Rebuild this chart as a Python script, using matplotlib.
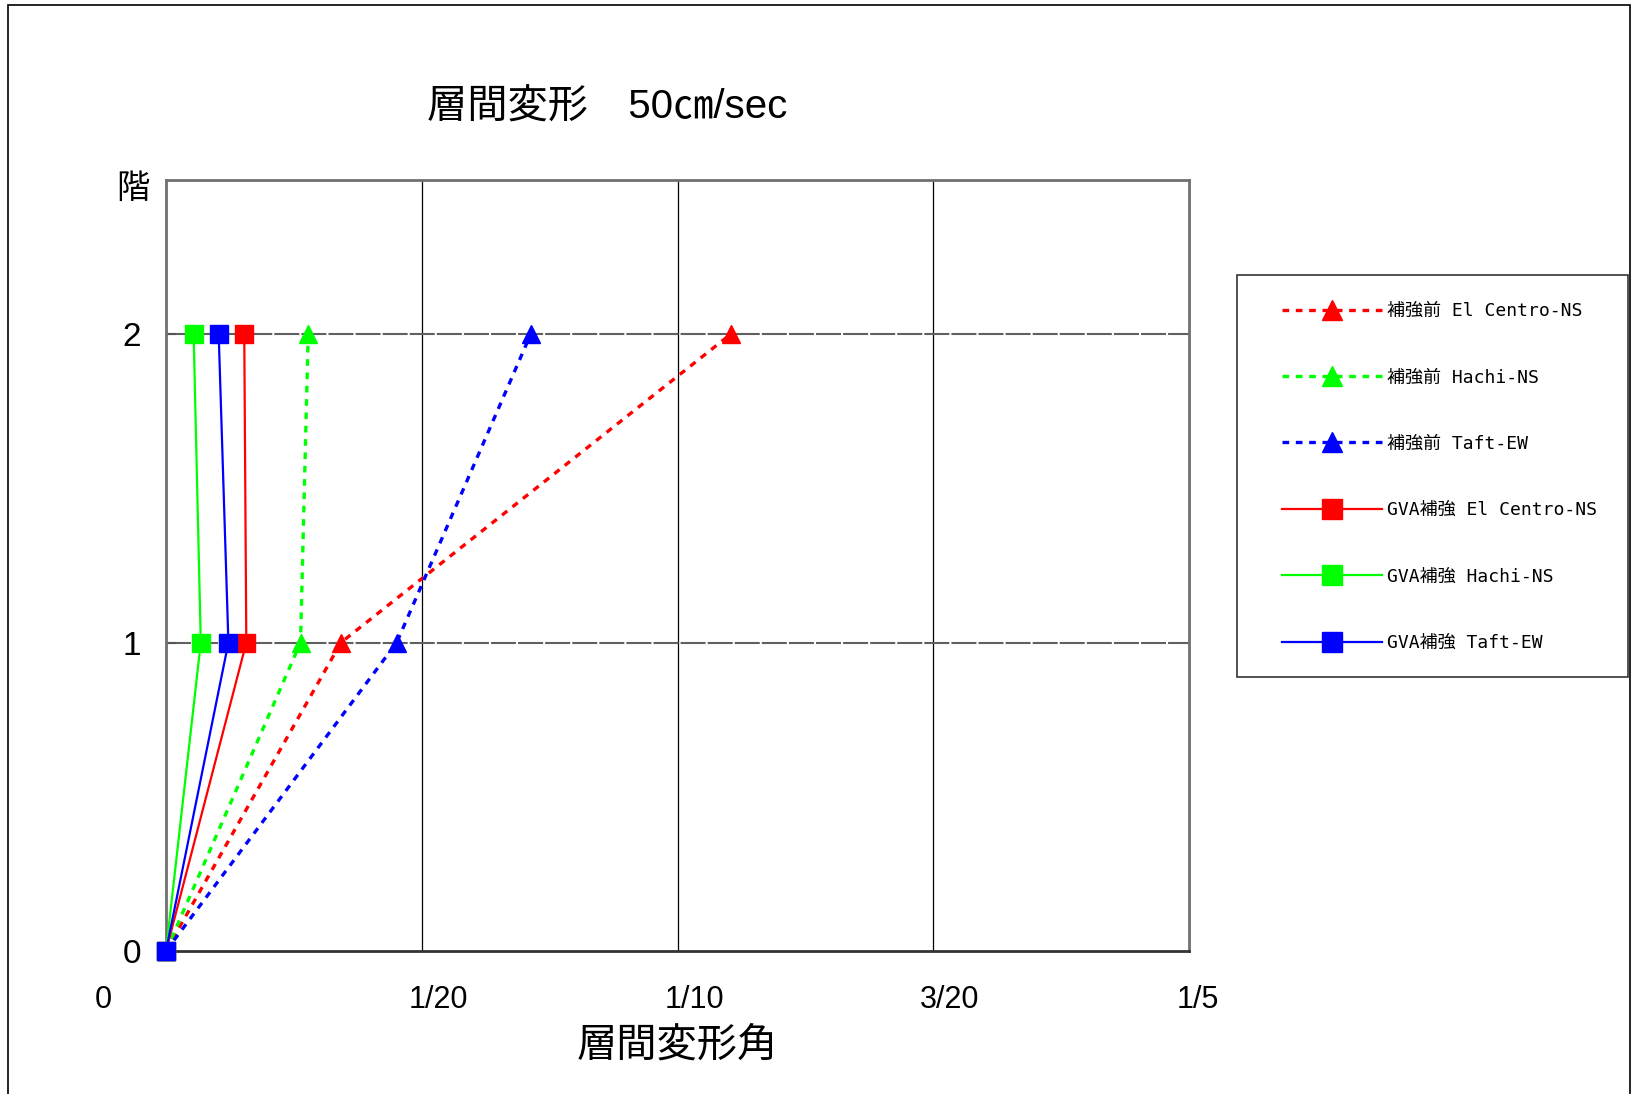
import matplotlib
matplotlib.use("Agg")
from matplotlib import pyplot as plt
from matplotlib.patches import Rectangle

FIG_W = 1634
FIG_H = 1094
DPI = 100

# data (interstory drift angle per floor)
FLOORS = [0, 1, 2]

BEFORE_EL_CENTRO = [0.0, 0.0342, 0.1104]
BEFORE_HACHI = [0.0, 0.0263, 0.0278]
BEFORE_TAFT = [0.0, 0.0451, 0.0713]

GVA_EL_CENTRO = [0.0, 0.0157, 0.0153]
GVA_HACHI = [0.0, 0.0068, 0.0054]
GVA_TAFT = [0.0, 0.0122, 0.0103]

SERIES_LABELS = [
    "補強前 El Centro-NS",
    "補強前 Hachi-NS",
    "補強前 Taft-EW",
    "GVA補強 El Centro-NS",
    "GVA補強 Hachi-NS",
    "GVA補強 Taft-EW",
]

X_TICKS = [0.0, 0.05, 0.1, 0.15, 0.2]
X_TICK_LABELS = ["0", "1/20", "1/10", "3/20", "1/5"]
# label shift in points (Excel style placement)
X_TICK_SHIFT = [-45, 12, 12, 12, 6]
Y_TICKS = [0, 1, 2]

RED = "#FF0000"
GREEN = "#00FF00"
BLUE = "#0000FF"

plt.rcParams["font.family"] = ["Liberation Sans", "Noto Sans CJK JP", "DejaVu Sans"]


def px(x: float, y: float):
    return x / FIG_W, 1 - y / FIG_H


def main() -> None:
    fig = plt.figure(figsize=(FIG_W / DPI, FIG_H / DPI), dpi=DPI)
    fig.patch.set_facecolor("white")

    left, top = 166, 180
    right, bottom = 1189, 951
    ax = fig.add_axes([
        left / FIG_W,
        1 - bottom / FIG_H,
        (right - left) / FIG_W,
        (bottom - top) / FIG_H,
    ])

    # outer frame of the chart area
    fig.patches.append(Rectangle(
        px(8, 1120), (1630 - 8) / FIG_W, (1120 - 5) / FIG_H,
        transform=fig.transFigure, fill=False, edgecolor="black",
        linewidth=1.2, clip_on=False,
    ))

    # grid
    for xv in X_TICKS[1:-1]:
        ax.axvline(xv, color="black", linewidth=0.9, zorder=1)
    for yv in Y_TICKS[1:]:
        ax.axhline(yv, color="#606060", linewidth=1.5,
                   linestyle=(0, (12, 1)), zorder=1)

    dotted = (0, (2, 2))
    ax.plot(BEFORE_EL_CENTRO, FLOORS, color=RED, linestyle=dotted,
            linewidth=2.4, marker="^", markersize=13.5, label=SERIES_LABELS[0],
            clip_on=False, zorder=3)
    ax.plot(BEFORE_HACHI, FLOORS, color=GREEN, linestyle=dotted,
            linewidth=2.4, marker="^", markersize=13.5, label=SERIES_LABELS[1],
            clip_on=False, zorder=3)
    ax.plot(BEFORE_TAFT, FLOORS, color=BLUE, linestyle=dotted,
            linewidth=2.4, marker="^", markersize=13.5, label=SERIES_LABELS[2],
            clip_on=False, zorder=3)
    ax.plot(GVA_EL_CENTRO, FLOORS, color=RED, linestyle="-",
            linewidth=1.6, marker="s", markersize=13, label=SERIES_LABELS[3],
            clip_on=False, zorder=4)
    ax.plot(GVA_HACHI, FLOORS, color=GREEN, linestyle="-",
            linewidth=1.6, marker="s", markersize=13, label=SERIES_LABELS[4],
            clip_on=False, zorder=4)
    ax.plot(GVA_TAFT, FLOORS, color=BLUE, linestyle="-",
            linewidth=1.6, marker="s", markersize=13, label=SERIES_LABELS[5],
            clip_on=False, zorder=4)

    ax.set_xlim(0, 0.2)
    ax.set_ylim(0, 2.5)

    ax.set_xticks(X_TICKS)
    ax.set_xticklabels([])
    ax.tick_params(axis="x", length=0)
    for xv, label, shift in zip(X_TICKS, X_TICK_LABELS, X_TICK_SHIFT):
        ax.annotate(label, xy=(xv, 0), xycoords="data",
                    xytext=(shift, -35), textcoords="offset points",
                    ha="center", va="center", fontsize=22)

    ax.set_yticks(Y_TICKS)
    ax.set_yticklabels([str(v) for v in Y_TICKS], fontsize=24)
    ax.tick_params(axis="y", direction="in", length=7, width=1.5,
                   color="#555555", pad=18)

    for name, spine in ax.spines.items():
        spine.set_color("#707070")
        spine.set_linewidth(2)
    ax.spines["bottom"].set_color("#333333")

    # texts
    fig.text(*px(607, 108), "層間変形　50㎝/sec", ha="center", va="center",
             fontsize=29)
    fig.text(*px(677, 1046), "層間変形角", ha="center", va="center",
             fontsize=29)
    fig.text(*px(133, 189), "階", ha="center", va="center", fontsize=24)

    # legend frame
    fig.patches.append(Rectangle(
        px(1237, 677), (1628 - 1237) / FIG_W, (677 - 275) / FIG_H,
        transform=fig.transFigure, fill=False, edgecolor="#333333",
        linewidth=1.2,
    ))

    # legend
    leg = ax.legend(
        loc="upper left",
        bbox_to_anchor=px(1282, 302),
        bbox_transform=fig.transFigure,
        prop={"family": ["DejaVu Sans Mono", "Noto Sans CJK JP"], "size": 13},
        handlelength=5.54,
        handletextpad=0.3,
        labelspacing=2.68,
        borderpad=0,
        borderaxespad=0,
        markerscale=1.1,
        frameon=False,
    )

    fig.savefig("out.png", dpi=DPI, facecolor="white")
    plt.close(fig)


if __name__ == "__main__":
    main()
